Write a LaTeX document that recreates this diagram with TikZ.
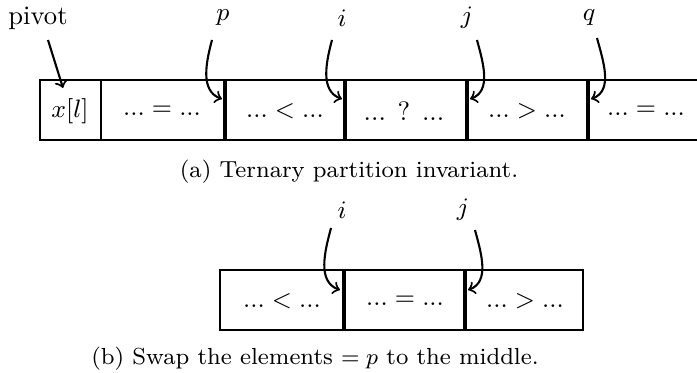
\documentclass[tikz,border=0pt]{standalone}
\begin{document}
\begin{tikzpicture}[x=0.357pt,y=-0.357pt,
  cellbox/.style={line width=0.4pt},
  bar/.style={line width=1.45pt},
  arr/.style={->,line width=0.75pt},
  txt/.style={font=\fontsize{9.5}{11}\selectfont},
  lbl/.style={inner sep=1pt,font=\fontsize{9.5}{11}\selectfont},
  captext/.style={font=\fontsize{8.3}{10}\selectfont}]
\useasboundingbox (0,0) rectangle (697,373);
% top row outline
\draw[cellbox] (705,80) -- (40,80) -- (40,140) -- (705,140);
\draw[cellbox] (101,80) -- (101,140);
\draw[bar] (225,80) -- (225,140);
\draw[bar] (345,80) -- (345,140);
\draw[bar] (467,80) -- (467,140);
\draw[bar] (588,80) -- (588,140);
\node[txt] (c0) at (70,111) {$x[l]$};
\node[txt] (c1) at (162,111) {$...=...$};
\node[txt] (c2) at (285,111) {$...<...$};
\node[txt] (c3) at (404,111) {... ? ...};
\node[txt] (c4) at (527,111) {$...>...$};
\node[txt] (c5) at (646,111) {$...=...$};
\coordinate (pp) at (222,99);
\coordinate (pi) at (342,99);
\coordinate (pj) at (470,99);
\coordinate (pq) at (591,99);
\coordinate (pv) at (63,88);
\node[lbl] (lpiv) at (38,18) {pivot};
\node[lbl] (lp) at (223,18) {$p$};
\node[lbl] (li) at (342,18) {$i$};
\node[lbl] (lj) at (467,18) {$j$};
\node[lbl] (lq) at (589,18) {$q$};
\draw[arr] (48,40) -- (pv);
\draw[arr] (212,40) to[out=-105,in=160] (pp);
\draw[arr] (332,40) to[out=-105,in=160] (pi);
\draw[arr] (477,40) to[out=-75,in=20] (pj);
\draw[arr] (597,38) to[out=-75,in=20] (pq);
\node[captext] (capa) at (349,172) {(a) Ternary partition invariant.};
% bottom row
\draw[cellbox] (220,270) rectangle (583,330);
\draw[bar] (344,270) -- (344,330);
\draw[bar] (465,270) -- (465,330);
\node[txt] (d1) at (282,301) {$...<...$};
\node[txt] (d2) at (405,301) {$...=...$};
\node[txt] (d3) at (525,301) {$...>...$};
\node[lbl] (bi) at (342,210) {$i$};
\node[lbl] (bj) at (463,210) {$j$};
\coordinate (qi) at (340,290);
\coordinate (qj) at (468,290);
\draw[arr] (331,228) to[out=-105,in=160] (qi);
\draw[arr] (475,230) to[out=-75,in=20] (qj);
\node[captext] (capb) at (315,359) {(b) Swap the elements $=p$ to the middle.};
\end{tikzpicture}
\end{document}
